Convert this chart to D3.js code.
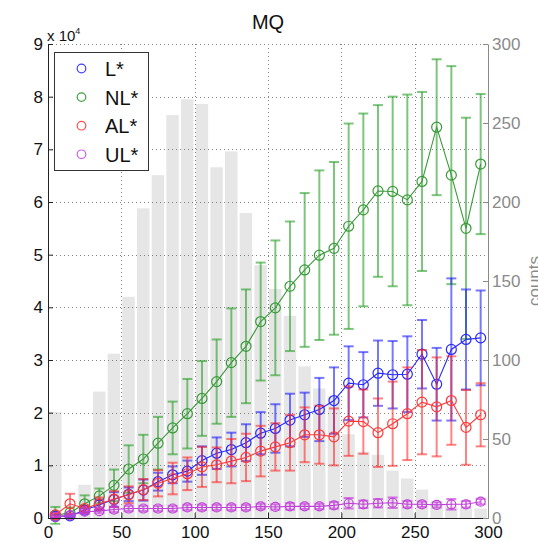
<!DOCTYPE html>
<html>
<head>
<meta charset="utf-8">
<script src="https://cdn.jsdelivr.net/npm/d3@7/dist/d3.min.js"></script>
<style>
  html, body { margin: 0; padding: 0; background: #fff; }
  svg { display: block; font-family: "Liberation Sans", Arial, Helvetica, sans-serif; }
</style>
</head>
<body>
<svg id="chart" width="538" height="542"></svg>
<script>
// Bin centres (left axis x) and histogram counts (right axis)
const binCenters = [5,15,25,35,45,55,65,75,85,95,105,115,125,135,145,155,165,175,185,195,205,215,225,235,245,255,265,275,285,295];
const counts = [67,3,21,80,104,140,196,217,255,265,262,222,232,193,160,145,128,96,82,77,53,42,40,30,25,18,10,7,6,6];

// Series means and error half-widths
const lMean  = [300,400,1500,2500,3500,4500,5300,6900,8200,8900,10900,12300,13000,14300,16100,17000,18600,19600,20600,22300,25600,25300,27500,27200,27300,31100,25400,32000,33900,34200];
const lErr   = [300,300,500,1000,1400,1300,2000,1700,1600,2000,2700,3000,3200,3500,4000,4600,5000,4200,6000,6300,7000,6200,6200,6400,7200,6500,6900,13500,9500,9000];
const nlMean = [500,1000,2700,4200,6200,9300,11200,14200,17100,19800,22700,25900,29500,32600,37300,39900,44000,47100,49900,51200,55400,58500,62100,62000,60400,63900,74200,65100,55000,67200];
const nlErr  = [1600,1000,1600,1400,3000,4500,4600,5000,5000,6600,7100,8000,10300,10800,11200,12800,12300,14600,16100,16400,19500,18300,16300,18000,20000,17000,12900,20700,21000,13300];
const alMean = [600,2700,1800,2700,3600,4400,5400,6600,7500,8400,9700,10100,10800,11500,12700,13500,14300,15800,15800,15400,18400,18300,16200,17900,19800,22000,21100,22300,17200,19600];
const alErr  = [300,1900,500,1200,1500,1600,2000,2500,3000,3100,3800,3300,4200,4500,4800,4500,5300,5200,5500,5400,6600,6100,6500,8000,8800,9900,9400,8400,7100,6000];
const ulMean = [200,500,1200,1300,1600,1800,1800,1800,1800,2000,2000,2000,2000,2000,2200,2100,2200,2200,2200,2400,2800,2600,2800,2900,2600,2600,2500,2600,2600,3100];
const ulErr  = [200,300,400,400,500,500,500,500,500,500,500,500,500,500,500,500,600,500,500,600,1000,700,800,1000,600,500,500,1000,600,500];

const seriesNames = ["L*", "NL*", "AL*", "UL*"];
const xTicks = [0,50,100,150,200,250,300];
const yTicks = [0,10000,20000,30000,40000,50000,60000,70000,80000,90000];
const countTicks = [0,50,100,150,200,250,300];

const svg = d3.select("#chart");
const plotL = 48, plotR = 488, plotT = 44, plotB = 518;

const x = d3.scaleLinear().domain([0, 300]).range([plotL, plotR]);
const y = d3.scaleLinear().domain([0, 90000]).range([plotB, plotT]);
const yc = d3.scaleLinear().domain([0, 300]).range([plotB, plotT]);

// Histogram bars (bin width 10)
svg.append("g").selectAll("rect").data(binCenters).join("rect")
  .attr("x", (d) => x(d - 5) + 1)
  .attr("width", (d) => x(d + 5) - x(d - 5) - 2.2)
  .attr("y", (d, i) => yc(counts[i]))
  .attr("height", (d, i) => yc(0) - yc(counts[i]))
  .attr("fill", "#e6e6e6");

// Dotted grid
const grid = svg.append("g").attr("stroke", "#666").attr("stroke-width", 1)
  .attr("stroke-dasharray", "1,3").attr("opacity", 0.8);
grid.selectAll("line.h").data(yTicks.slice(1)).join("line").attr("class", "h")
  .attr("x1", plotL).attr("x2", plotR)
  .attr("y1", (d) => Math.round(y(d)) + 0.5).attr("y2", (d) => Math.round(y(d)) + 0.5);
grid.selectAll("line.v").data(xTicks.slice(1, -1)).join("line").attr("class", "v")
  .attr("y1", plotT).attr("y2", plotB)
  .attr("x1", (d) => Math.round(x(d)) + 0.5).attr("x2", (d) => Math.round(x(d)) + 0.5);

// Series
const series = [
  { name: "NL*", mean: nlMean, err: nlErr, line: "#3a9a3a", bar: "rgba(40,160,40,0.6)", r: 5 },
  { name: "L*",  mean: lMean,  err: lErr,  line: "#2a2aff", bar: "rgba(30,30,255,0.6)", r: 5 },
  { name: "AL*", mean: alMean, err: alErr, line: "#ff3a3a", bar: "rgba(255,30,30,0.55)", r: 5 },
  { name: "UL*", mean: ulMean, err: ulErr, line: "#c040d8", bar: "rgba(200,60,220,0.65)", r: 4.5 }
];
const capHalf = 5;
const line = d3.line().x((d) => x(d[0])).y((d) => y(d[1]));

series.forEach((s) => {
  const g = svg.append("g");
  const pts = binCenters.map((c, i) => [c, s.mean[i], s.err[i]]);
  const eb = g.append("g").attr("stroke", s.bar).attr("stroke-width", 2).attr("fill", "none");
  pts.forEach((p) => {
    const lo = y(p[1] - p[2]), hi = y(p[1] + p[2]), cx = x(p[0]);
    eb.append("line").attr("x1", cx).attr("x2", cx).attr("y1", lo).attr("y2", hi);
    eb.append("line").attr("x1", cx - capHalf).attr("x2", cx + capHalf).attr("y1", lo).attr("y2", lo);
    eb.append("line").attr("x1", cx - capHalf).attr("x2", cx + capHalf).attr("y1", hi).attr("y2", hi);
  });
  g.append("path").datum(pts).attr("d", line)
    .attr("fill", "none").attr("stroke", s.line).attr("stroke-width", 1.1);
  g.append("g").selectAll("circle").data(pts).join("circle")
    .attr("cx", (d) => x(d[0])).attr("cy", (d) => y(d[1])).attr("r", s.r)
    .attr("fill", "none").attr("stroke", s.line).attr("stroke-width", 1.2);
});

// Axes
const fs = 17;
const axL = svg.append("g").attr("transform", `translate(${plotL},0)`)
  .call(d3.axisLeft(y).tickValues(yTicks).tickFormat((d) => d / 10000)
    .tickSizeInner(-5).tickSizeOuter(0).tickPadding(5));
const axB = svg.append("g").attr("transform", `translate(0,${plotB})`)
  .call(d3.axisBottom(x).tickValues(xTicks).tickSizeInner(-5).tickSizeOuter(0).tickPadding(8));
const axR = svg.append("g").attr("transform", `translate(${plotR},0)`)
  .call(d3.axisRight(yc).tickValues(countTicks).tickSizeInner(-5).tickSizeOuter(0).tickPadding(4));

[axL, axB].forEach((a) => {
  a.attr("font-family", null);
  a.selectAll("text").attr("font-size", fs).attr("fill", "#111");
  a.selectAll("path, line").attr("stroke", "#222");
});
axR.attr("font-family", null);
axR.selectAll("text").attr("font-size", fs).attr("fill", "#8a8a8a");
axR.selectAll("path, line").attr("stroke", "#8a8a8a");

// Exponent label for the left axis
const ex = svg.append("text").attr("x", 47).attr("y", 41).attr("font-size", 15).attr("fill", "#111");
ex.append("tspan").text("x 10");
ex.append("tspan").attr("font-size", 9).attr("dy", -7).text("4");

// Title
svg.append("text").attr("x", (plotL + plotR) / 2).attr("y", 29).attr("text-anchor", "middle")
  .attr("font-size", 20).attr("fill", "#111").text("MQ");

// Right axis label (runs past the right edge of the figure)
svg.append("text").attr("transform", `translate(540,${(plotT + plotB) / 2}) rotate(-90)`)
  .attr("text-anchor", "middle").attr("font-size", fs).attr("fill", "#8a8a8a").text("counts");

// Legend
const legendColors = { "L*": "#4040ff", "NL*": "#40a040", "AL*": "#ff4d4d", "UL*": "#d060e8" };
const lg = svg.append("g");
lg.append("rect").attr("x", 54.5).attr("y", 52.5).attr("width", 94).attr("height", 118)
  .attr("fill", "#fff").attr("stroke", "#333").attr("stroke-width", 1);
seriesNames.forEach((n, i) => {
  const cy = 68.5 + i * 28.6;
  lg.append("circle").attr("cx", 81.5).attr("cy", cy).attr("r", 4.3)
    .attr("fill", "none").attr("stroke", legendColors[n]).attr("stroke-width", 1.2);
  lg.append("text").attr("x", 105).attr("y", cy + 7.5).attr("font-size", 20).attr("fill", "#111").text(n);
});
</script>
</body>
</html>
